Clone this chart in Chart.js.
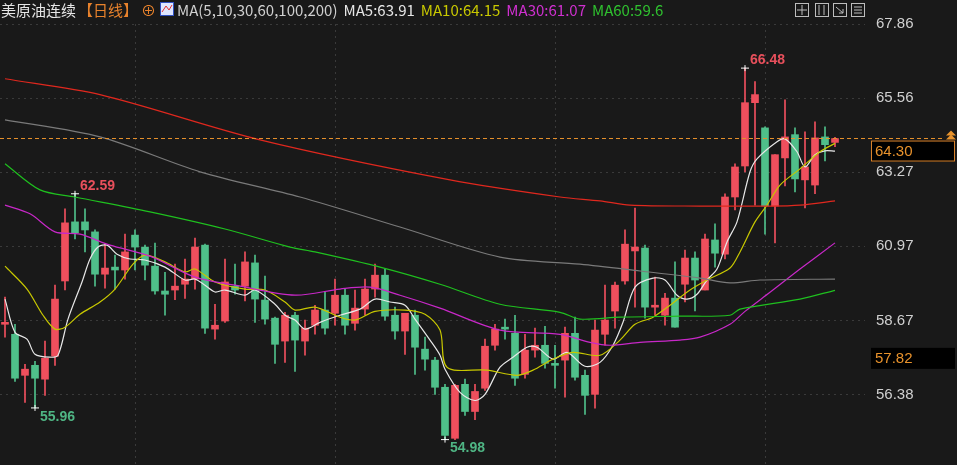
<!DOCTYPE html>
<html><head><meta charset="utf-8">
<script src="https://cdn.jsdelivr.net/npm/chart.js@4"></script>
<style>html,body{margin:0;padding:0;background:#191919;}#wrap{width:957px;height:465px;}</style>
</head><body><div id="wrap"><canvas id="k"></canvas></div>
<script>
// daily candles, oldest first
const opens  = [58.55,58.24,56.97,57.28,56.85,57.56,59.89,61.72,61.72,61.41,60.10,60.32,60.23,61.31,60.94,60.35,59.58,59.61,59.79,59.95,61.00,58.40,58.65,59.73,59.73,60.45,59.30,58.74,58.03,58.83,58.03,58.52,58.99,58.89,59.45,58.58,59.02,59.64,60.07,58.83,58.34,58.83,57.78,57.44,56.60,55.02,56.69,55.85,56.57,57.90,58.46,58.27,57.00,57.75,57.90,57.34,57.44,58.27,56.97,56.38,58.24,58.96,59.89,60.82,60.91,59.08,58.83,59.36,59.79,60.60,59.61,61.16,60.72,62.49,63.45,65.41,64.63,62.21,63.70,64.42,63.02,62.86,64.35,64.18];
const highs  = [59.39,58.55,57.31,57.40,58.03,59.76,62.12,62.59,62.12,61.47,61.03,60.69,61.34,61.47,61.00,61.06,60.16,60.41,60.57,61.22,61.03,59.17,60.57,60.41,60.79,60.69,60.04,58.77,58.92,58.92,58.68,59.14,59.55,59.95,59.64,59.61,59.95,60.41,60.26,59.08,58.89,58.99,58.15,57.53,56.69,56.69,56.85,56.69,58.09,58.55,58.71,58.83,58.24,58.43,58.49,57.90,58.46,58.77,57.13,58.68,59.76,59.86,61.47,62.15,61.00,60.01,59.51,60.48,60.85,60.79,61.34,61.66,62.59,63.52,66.48,66.06,64.66,63.80,65.50,64.63,64.51,64.82,64.66,64.34];
const lows   = [58.15,56.78,56.13,55.96,56.35,57.28,59.61,61.19,60.79,59.73,59.67,59.64,59.95,60.23,59.92,59.48,58.83,59.31,59.35,59.64,58.27,58.09,58.61,59.48,59.27,58.61,58.55,57.34,57.37,57.09,57.59,58.24,58.24,58.52,58.24,58.37,58.83,59.39,58.68,58.09,57.62,57.00,57.13,56.38,54.98,54.98,55.73,55.60,56.50,57.75,58.09,56.66,56.88,57.53,57.19,56.57,56.29,56.82,55.76,55.95,57.90,58.43,59.79,59.08,58.74,58.83,58.52,58.46,59.24,58.96,59.61,60.32,60.57,62.09,63.27,62.24,61.34,61.07,62.83,62.65,62.15,62.59,63.61,64.05];
const closes = [58.61,56.88,57.16,56.88,57.50,59.33,61.69,61.38,61.47,60.10,60.29,60.23,60.79,60.94,60.38,59.58,59.48,59.73,59.95,60.94,58.43,58.52,59.86,59.61,60.48,59.33,58.71,57.93,58.83,58.06,58.43,58.99,58.43,59.45,58.52,59.05,59.64,60.07,58.80,58.34,58.89,57.84,57.47,56.60,55.11,56.66,55.85,56.47,57.87,58.40,58.40,56.88,57.75,57.90,57.34,57.28,58.27,56.91,56.35,58.37,58.68,59.76,61.03,60.94,59.08,59.14,59.36,58.46,60.60,59.92,61.19,60.75,62.49,63.42,65.41,65.66,62.21,63.80,64.35,63.05,63.42,64.32,64.11,64.30];

// moving averages: [candle index, value]
const ma5 = [[0,59.33],[1,58.30],[2.2,58.09],[3,57.62],[4.5,57.53],[5.3,57.59],[6.3,58.71],[7.7,59.86],[8.5,60.57],[9.3,60.94],[10.2,61.00],[11.2,60.72],[12.5,60.57],[14,60.54],[16,60.32],[18,59.92],[19,59.95],[20,59.76],[21,59.55],[22,59.61],[24,59.45],[25,59.61],[27,59.17],[28,58.83],[29,58.68],[30,58.40],[31.5,58.61],[33.5,58.83],[35.5,59.02],[37,59.33],[38.5,59.24],[40,59.14],[41,58.71],[42.5,58.06],[43.5,57.59],[44,57.16],[45.5,56.44],[47,56.19],[48,56.38],[49.5,57.22],[50.8,57.53],[52.2,57.84],[53.2,57.84],[54.8,57.47],[56.2,57.68],[58,57.25],[59.5,57.37],[60.8,57.90],[61.8,58.61],[63,59.70],[64.8,59.98],[66,59.92],[67.2,59.45],[68.2,59.33],[69.2,59.48],[70.2,59.92],[71.2,60.26],[72.2,61.10],[73.2,61.72],[74.5,63.27],[75.2,63.67],[77.2,64.20],[78,64.29],[79.2,63.89],[80,63.42],[81,63.80],[82,63.92],[83,63.91]];
const ma10 = [[0,60.35],[2.2,59.64],[3.8,58.83],[5,58.40],[6,58.46],[7.5,58.86],[9.5,59.24],[11,59.64],[12.8,60.41],[14,60.69],[16,60.48],[18,60.17],[19,60.26],[21,59.86],[24,59.64],[26,59.61],[28,59.24],[29,58.99],[31,59.08],[33.5,58.77],[35,58.68],[37,58.95],[40,58.99],[42,58.86],[43.5,58.37],[44.2,57.22],[48.2,57.13],[51.2,56.97],[52.8,57.13],[54.8,57.47],[56.8,57.68],[59.5,57.59],[61.5,58.06],[63,58.55],[64.8,58.77],[66.5,59.14],[68.5,59.61],[70.2,59.92],[72.5,60.29],[73.5,60.79],[75,61.72],[76.2,62.24],[77.5,62.86],[79.5,63.36],[81.5,63.89],[83,64.15]];
const ma30 = [[0,62.24],[2.5,61.97],[5,61.41],[7.5,61.34],[10.5,61.00],[14.5,60.66],[19,60.01],[23,59.76],[29,59.45],[33.5,59.64],[36.5,59.70],[39.5,59.45],[43.5,59.05],[49.5,58.37],[55.5,58.24],[58.5,57.99],[60.5,57.90],[63.5,57.99],[67.5,58.06],[69.5,58.15],[72.5,58.55],[74,58.95],[76.5,59.54],[79.5,60.26],[83,61.07]];
const ma60 = [[0,63.52],[3.5,62.71],[7,62.49],[14.5,62.03],[22,61.50],[28.5,60.94],[31,60.79],[37.5,60.32],[43.5,59.79],[49.5,59.17],[55.5,58.92],[57.5,58.71],[61.5,58.77],[67.5,58.80],[72.5,58.83],[73.5,59.02],[79.5,59.33],[83,59.60]];
const ma100 = [[0,64.88],[9.5,64.35],[19.5,63.27],[29.5,62.49],[39.5,61.56],[49.5,60.63],[57.5,60.41],[63.5,60.20],[69.5,59.98],[72.5,59.83],[75.5,59.92],[83,59.95]];
const ma200 = [[0,66.15],[9.5,65.66],[25.5,64.26],[44.5,63.02],[55.5,62.49],[59.5,62.37],[62.5,62.24],[69.5,62.21],[76.5,62.21],[79.5,62.24],[83,62.37]];

const tickVals = [67.86, 65.56, 63.27, 60.97, 58.67, 56.38];
const gridIdx = [13, 33, 55, 76];
const lastPrice = 64.30;
const sideLabel = 57.82;
const marks = [
  {i: 7, v: 62.59, text: '62.59', color: '#e8505c', up: true},
  {i: 3, v: 55.96, text: '55.96', color: '#4fb584', up: false},
  {i: 44, v: 54.98, text: '54.98', color: '#4fb584', up: false},
  {i: 74, v: 66.48, text: '66.48', color: '#e8505c', up: true}
];

const RED = '#ef4f5d', GREEN = '#4fbf8a';
const col = opens.map((o, i) => closes[i] >= o ? RED : GREEN);
const idx = opens.map((o, i) => i);

const pts = a => a.map(p => ({x: p[0], y: p[1]}));
const line = (d, c) => ({type: 'line', data: pts(d), borderColor: c, borderWidth: 1.2, pointRadius: 0, tension: 0.3, order: 0});

const overlay = {
  id: 'overlay',
  beforeDatasetsDraw(chart) {
    const {ctx, chartArea: a, scales: {x, y}} = chart;
    ctx.save();
    ctx.strokeStyle = '#3a3a3a';
    ctx.setLineDash([2, 4]);
    ctx.lineWidth = 1;
    tickVals.forEach(v => { const py = Math.round(y.getPixelForValue(v)) + 0.5; ctx.beginPath(); ctx.moveTo(a.left, py); ctx.lineTo(a.right, py); ctx.stroke(); });
    gridIdx.forEach(i => { const px = Math.round(x.getPixelForValue(i)) + 0.5; ctx.beginPath(); ctx.moveTo(px, 24); ctx.lineTo(px, 465); ctx.stroke(); });
    ctx.restore();
  },
  afterDatasetsDraw(chart) {
    const {ctx, chartArea: a, scales: {x, y}} = chart;
    ctx.save();
    // last price line
    const py = y.getPixelForValue(lastPrice);
    ctx.strokeStyle = '#e8922c';
    ctx.setLineDash([4, 3]);
    ctx.beginPath(); ctx.moveTo(0, py); ctx.lineTo(a.right + 80, py); ctx.stroke();
    ctx.setLineDash([]);
    ctx.font = '15px "Liberation Sans", Arial';
    ctx.textBaseline = 'middle';
    ctx.fillStyle = '#000'; ctx.fillRect(871, py + 2, 84, 21);
    ctx.strokeStyle = '#d9822b'; ctx.strokeRect(871.5, py + 2.5, 83, 20);
    ctx.fillStyle = '#e8922c'; ctx.fillText(lastPrice.toFixed(2), 875, py + 13);
    ctx.beginPath(); ctx.moveTo(946, py - 3); ctx.lineTo(951, py - 8); ctx.lineTo(956, py - 3); ctx.closePath(); ctx.fill();
    ctx.beginPath(); ctx.moveTo(946, py + 1); ctx.lineTo(951, py - 4); ctx.lineTo(956, py + 1); ctx.closePath(); ctx.fill();
    const sy = y.getPixelForValue(sideLabel);
    ctx.fillStyle = '#000'; ctx.fillRect(871, sy, 84, 21);
    ctx.fillStyle = '#e8922c'; ctx.fillText(sideLabel.toFixed(2), 875, sy + 11);
    // high / low marks
    ctx.font = 'bold 14px "Liberation Sans", Arial';
    marks.forEach(m => {
      const mx = x.getPixelForValue(m.i), my = y.getPixelForValue(m.v);
      ctx.strokeStyle = '#fff'; ctx.lineWidth = 1;
      ctx.beginPath(); ctx.moveTo(mx - 4, my); ctx.lineTo(mx + 4, my); ctx.moveTo(mx, my - 3); ctx.lineTo(mx, my + 3); ctx.stroke();
      ctx.fillStyle = m.color;
      ctx.fillText(m.text, mx + 5, m.up ? my - 8 : my + 9);
    });
    // header
    ctx.font = '15px "Noto Sans CJK SC"';
    const put = (t, c, px) => { ctx.fillStyle = c; ctx.fillText(t, px, 10); };
    put('美原油连续', '#e6e6e6', 1);
    put('【日线】', '#e8822c', 78);
    put('⊕', '#e8822c', 141);
    const ix0 = 160;
    ctx.fillStyle = '#dfe6ff'; ctx.fillRect(ix0, 2, 14, 14);
    ctx.strokeStyle = '#3050c0'; ctx.strokeRect(ix0 + 0.5, 2.5, 13, 13);
    ctx.strokeStyle = '#e03030'; ctx.beginPath(); ctx.moveTo(ix0 + 2, 12); ctx.lineTo(ix0 + 6, 6); ctx.lineTo(ix0 + 9, 10); ctx.lineTo(ix0 + 12, 5); ctx.stroke();
    let tx = 177;
    const flow = (t, c) => { put(t, c, tx); tx += ctx.measureText(t).width + 6; };
    flow('MA(5,10,30,60,100,200)', '#d0d0d0');
    flow('MA5:63.91', '#e6e6e6');
    flow('MA10:64.15', '#c8c800');
    flow('MA30:61.07', '#d030d0');
    flow('MA60:59.6', '#2fc02f');
    // toolbar icons
    ctx.strokeStyle = '#bdbdbd'; ctx.lineWidth = 1;
    [795, 815, 833, 851].forEach((ix, k) => {
      ctx.strokeRect(ix + 0.5, 3.5, 13, 13);
      ctx.beginPath();
      if (k === 0) { ctx.moveTo(ix + 7, 5); ctx.lineTo(ix + 7, 15); ctx.moveTo(ix + 2, 10); ctx.lineTo(ix + 12, 10); }
      else if (k === 1) { ctx.moveTo(ix + 4, 5); ctx.lineTo(ix + 4, 15); ctx.moveTo(ix + 9, 5); ctx.lineTo(ix + 9, 15); }
      else if (k === 2) { ctx.moveTo(ix + 3, 7); ctx.lineTo(ix + 10, 13); ctx.moveTo(ix + 10, 9); ctx.lineTo(ix + 10, 13); ctx.lineTo(ix + 6, 13); }
      else { ctx.moveTo(ix + 3, 7); ctx.lineTo(ix + 11, 7); ctx.moveTo(ix + 3, 10); ctx.lineTo(ix + 11, 10); ctx.moveTo(ix + 3, 13); ctx.lineTo(ix + 11, 13); }
      ctx.stroke();
    });
    ctx.restore();
  }
};

new Chart(document.getElementById('k'), {
  data: {
    datasets: [
      line(ma200, '#e0281e'),
      line(ma100, '#7a7a7a'),
      line(ma60, '#1fc01f'),
      line(ma30, '#c828c8'),
      line(ma10, '#c8c800'),
      line(ma5, '#e8e8e8'),
      {type: 'bar', data: idx.map(i => ({x: i, y: [lows[i], highs[i]]})), backgroundColor: col, barThickness: 1, grouped: false, order: 2},
      {type: 'bar', data: idx.map(i => ({x: i, y: [opens[i], closes[i]]})), backgroundColor: col, barThickness: 7, minBarLength: 1, grouped: false, order: 1}
    ]
  },
  options: {
    responsive: true,
    maintainAspectRatio: false,
    animation: false,
    layout: {padding: 0},
    plugins: {legend: {display: false}, tooltip: {enabled: false}},
    scales: {
      x: {type: 'linear', min: -0.5, max: 86, offset: false, display: false},
      y: {
        position: 'right', min: 54.565, max: 68.217,
        afterBuildTicks: s => { s.ticks = tickVals.map(v => ({value: v})); },
        afterFit: s => { s.width = 92; },
        grid: {display: false},
        border: {display: false},
        ticks: {color: '#d0d0d0', padding: 3, font: {size: 15, family: 'Liberation Sans'}, callback: v => v.toFixed(2)}
      }
    }
  },
  plugins: [overlay]
});
</script></body></html>
